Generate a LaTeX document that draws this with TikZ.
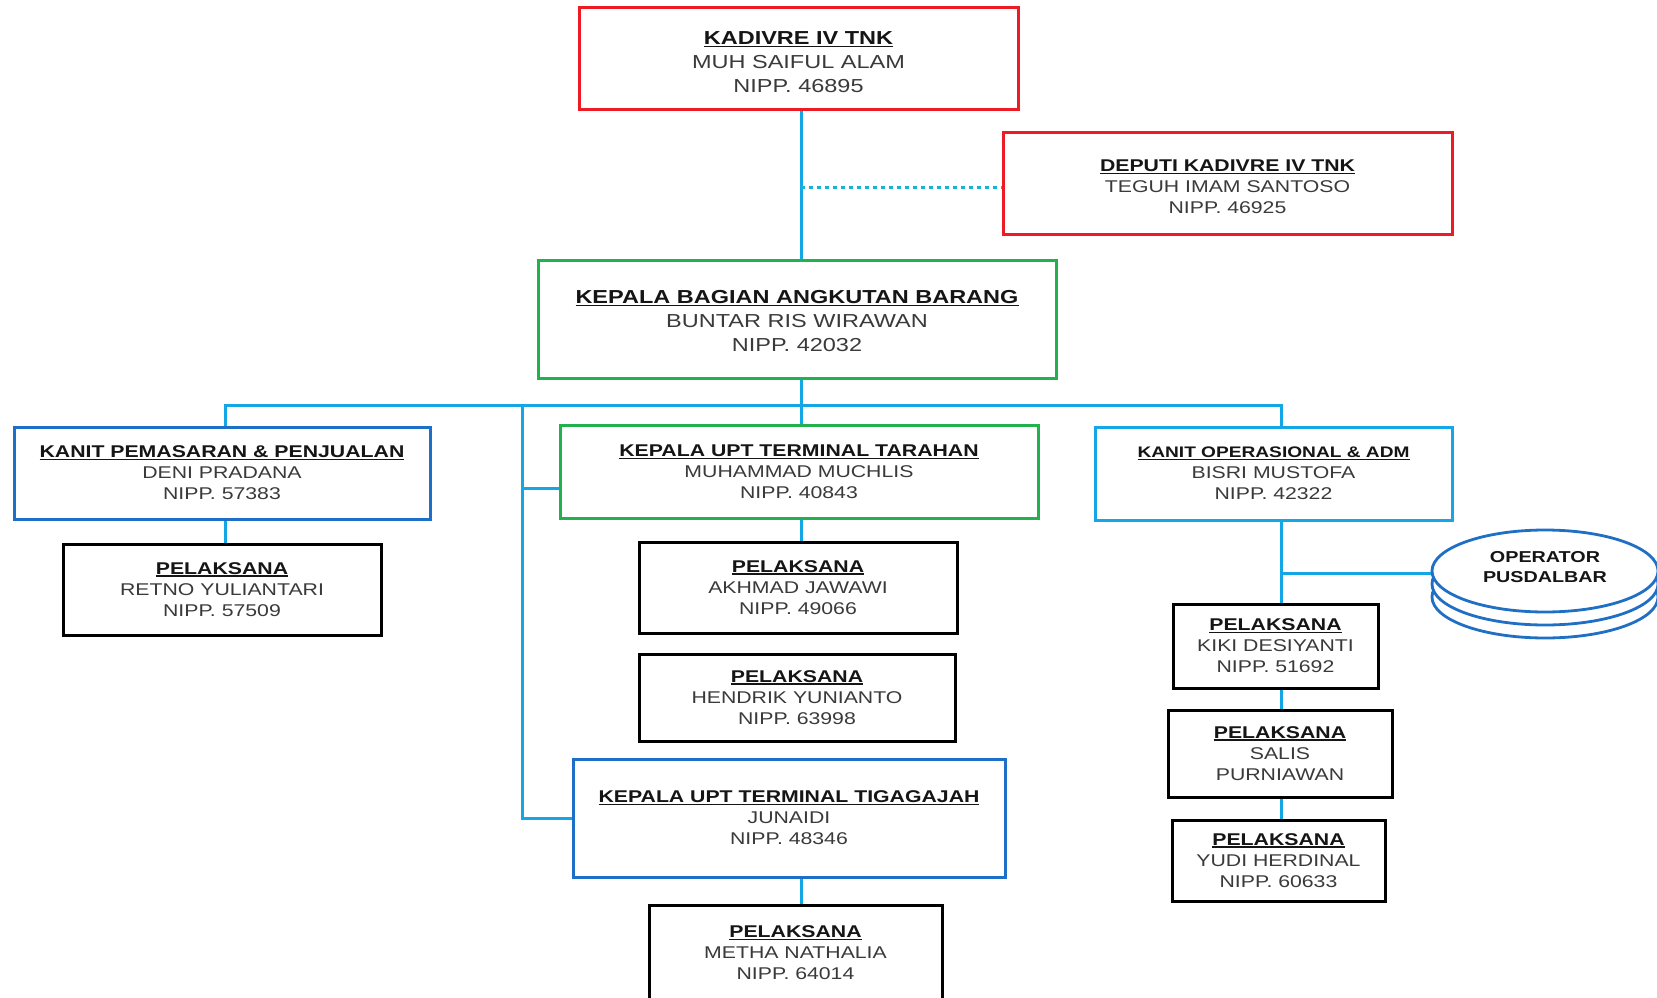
\documentclass[tikz,border=0pt]{standalone}
\usepackage{fontspec}
\setmainfont{Liberation Sans}[FakeStretch=1.25]
\usetikzlibrary{shapes.geometric}
\definecolor{cred}{HTML}{ED1C24}
\definecolor{cgreen}{HTML}{22B14C}
\definecolor{cdblue}{HTML}{1E6FC8}
\definecolor{ccyan}{HTML}{15A6E6}
\definecolor{cteal}{HTML}{18B4D8}
\definecolor{cell}{HTML}{1F6FC4}
\definecolor{ttext}{HTML}{151515}
\definecolor{ntext}{HTML}{3A3A3A}
\newcommand{\hd}[1]{\setbox0\hbox{\bfseries #1}\rlap{\rule[-2.4pt]{\wd0}{1.3pt}}\box0}
\newcommand{\nm}[1]{{\color{ntext}#1}}
\newcommand{\tstrut}[1]{\rule{0pt}{#1}}
\tikzset{
  box/.style={draw, line width=3pt, fill=white, align=center, inner sep=0pt, text=ttext},
  fbig/.style={font=\fontsize{18.8}{24}\selectfont},
  fmid/.style={font=\fontsize{17}{21}\selectfont},
  conn/.style={draw=ccyan, line width=3pt},
  dotconn/.style={draw=cteal, line width=3pt, dash pattern=on 3.5pt off 4.5pt},
  ellstyle/.style={draw=cell, line width=2.8pt, fill=white}
}
\begin{document}
\begin{tikzpicture}[x=1pt, y=-1pt]
\fill[white] (0,0) rectangle (1657,998);
\useasboundingbox (0,0) rectangle (1657,998);

% top level
\node[box, fbig, draw=cred, minimum width=439pt, minimum height=101pt] (A) at (798.5,58.5)
  {\tstrut{20pt}\hd{KADIVRE IV TNK}\\ \nm{MUH SAIFUL ALAM}\\ \nm{NIPP. 46895}};
\node[box, fmid, draw=cred, minimum width=449pt, minimum height=102pt] (B) at (1227.5,183)
  {\tstrut{19pt}\hd{DEPUTI KADIVRE IV TNK}\\ \nm{TEGUH IMAM SANTOSO}\\ \nm{NIPP. 46925}};
\node[box, fbig, draw=cgreen, minimum width=518pt, minimum height=118pt] (C) at (797,319)
  {\tstrut{18pt}\hd{KEPALA BAGIAN ANGKUTAN BARANG}\\ \nm{BUNTAR RIS WIRAWAN}\\ \nm{NIPP. 42032}};

% left column
\node[box, fmid, draw=cdblue, minimum width=416pt, minimum height=92pt] (D) at (222,473)
  {\hd{KANIT PEMASARAN \& PENJUALAN}\\ \nm{DENI PRADANA}\\ \nm{NIPP. 57383}};
\node[box, fmid, draw=black, minimum width=318pt, minimum height=91pt] (E) at (222,589.5)
  {\hd{PELAKSANA}\\ \nm{RETNO YULIANTARI}\\ \nm{NIPP. 57509}};

% middle column
\node[box, fmid, draw=cgreen, minimum width=478pt, minimum height=93pt] (F) at (799,472)
  {\hd{KEPALA UPT TERMINAL TARAHAN}\\ \nm{MUHAMMAD MUCHLIS}\\ \nm{NIPP. 40843}};
\node[box, fmid, draw=black, minimum width=318pt, minimum height=91pt] (G) at (798,587.5)
  {\hd{PELAKSANA}\\ \nm{AKHMAD JAWAWI}\\ \nm{NIPP. 49066}};
\node[box, fmid, draw=black, minimum width=316pt, minimum height=87pt] (H) at (797,697.5)
  {\hd{PELAKSANA}\\ \nm{HENDRIK YUNIANTO}\\ \nm{NIPP. 63998}};
\node[box, fmid, draw=cdblue, minimum width=432pt, minimum height=118pt] (I) at (789,818)
  {\hd{KEPALA UPT TERMINAL TIGAGAJAH}\\ \nm{JUNAIDI}\\ \nm{NIPP. 48346}};
\node[box, fmid, draw=black, minimum width=293pt, minimum height=96pt] (J) at (795.5,953)
  {\hd{PELAKSANA}\\ \nm{METHA NATHALIA}\\ \nm{NIPP. 64014}};

% right column
\node[box, fmid, draw=ccyan, minimum width=357pt, minimum height=93pt] (K) at (1273.5,473.5)
  {{\fontsize{15.3}{21}\selectfont\hd{KANIT OPERASIONAL \& ADM}}\\ \nm{BISRI MUSTOFA}\\ \nm{NIPP. 42322}};
\node[box, fmid, draw=black, minimum width=205pt, minimum height=84pt] (L) at (1275.5,646)
  {\hd{PELAKSANA}\\ \nm{KIKI DESIYANTI}\\ \nm{NIPP. 51692}};
\node[box, fmid, draw=black, minimum width=224pt, minimum height=87pt] (M) at (1280,753.5)
  {\hd{PELAKSANA}\\ \nm{SALIS}\\ \nm{PURNIAWAN}};
\node[box, fmid, draw=black, minimum width=213pt, minimum height=81pt] (N) at (1278.5,860.5)
  {\hd{PELAKSANA}\\ \nm{YUDI HERDINAL}\\ \nm{NIPP. 60633}};

% operator stack
\draw[ellstyle] (1545,597) ellipse [x radius=113pt, y radius=41pt];
\draw[ellstyle] (1545,584) ellipse [x radius=113pt, y radius=41pt];
\node[ellipse, ellstyle, minimum width=226pt, minimum height=82pt, inner sep=0pt, align=center,
      text=ttext, font=\fontsize{15.8}{20}\selectfont\bfseries] (ops) at (1545,571)
  {OPERATOR\\PUSDALBAR\rule[-9pt]{0pt}{9pt}};

% connectors
\coordinate (bus) at (801,405);
\coordinate (busL) at (225,405);
\coordinate (busR) at (1281,405);
\coordinate (vl) at (522,405);
\coordinate (vf) at (522,488);
\coordinate (dj) at (801,187);
\coordinate (opj) at (1281,573);

\draw[conn] (A.south -| bus) -- (C.north -| bus);
\draw[dotconn] (dj) -- (dj -| B.west);
\draw[conn] (C.south -| bus) -- (F.north -| bus);
\draw[conn] (D.north -| busL) -- (busL) -- (busR) -- (K.north -| busR);
\draw[conn] (vl) |- (I.west);
\draw[conn] (vf) -- (vf -| F.west);
\draw[conn] (D.south -| busL) -- (E.north -| busL);
\draw[conn] (F.south -| bus) -- (G.north -| bus);
\draw[conn] (I.south -| bus) -- (J.north -| bus);
\draw[conn] (K.south -| busR) -- (L.north -| busR);
\draw[conn] (L.south -| busR) -- (M.north -| busR);
\draw[conn] (M.south -| busR) -- (N.north -| busR);
\draw[conn] (opj) -- (opj -| ops.west);
\end{tikzpicture}
\end{document}
